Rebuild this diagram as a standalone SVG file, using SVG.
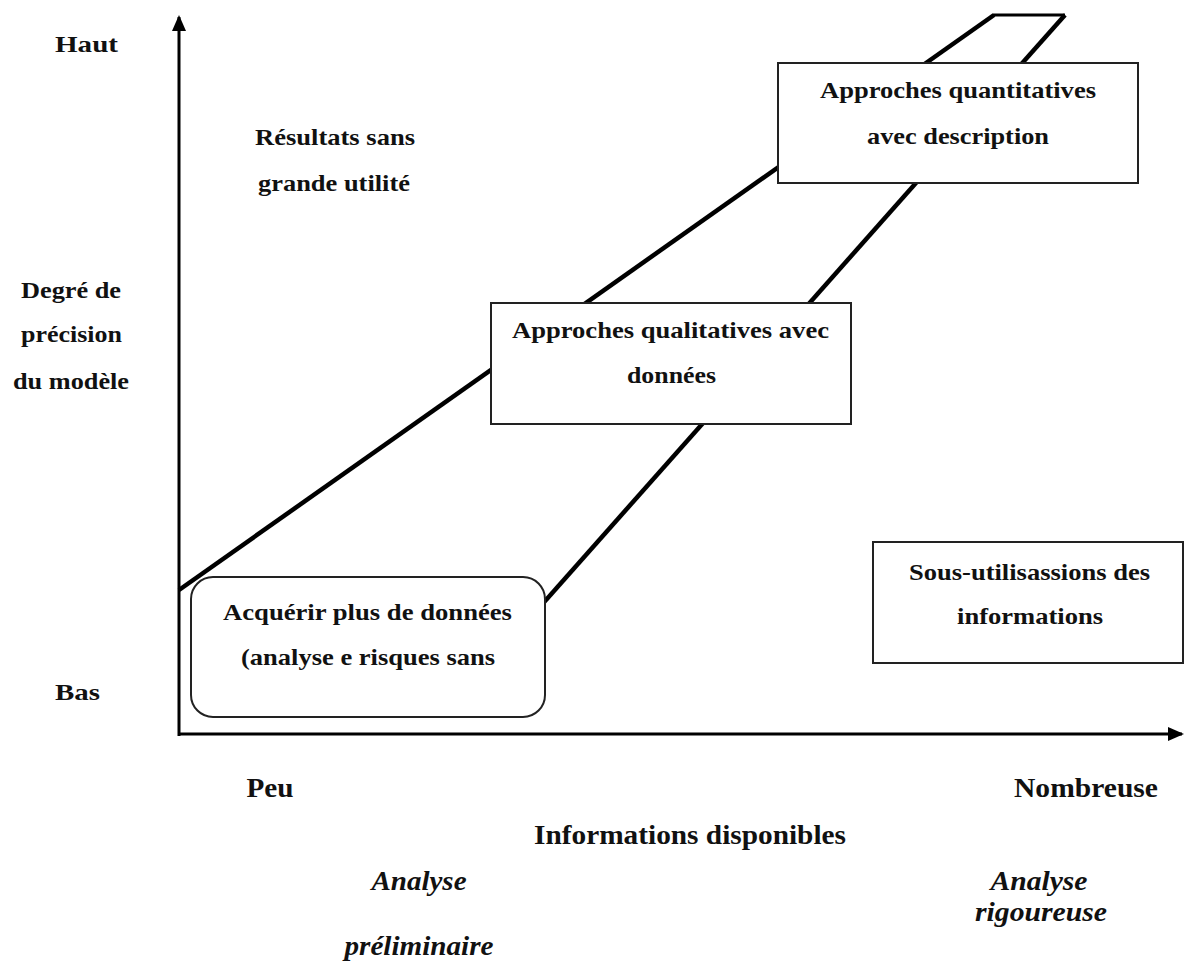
<svg xmlns="http://www.w3.org/2000/svg" width="1186" height="965" viewBox="0 0 1186 965">
  <style>
    .t { font-family: "Liberation Serif", "Times New Roman", serif; font-weight: bold; font-size: 24px; fill: #111; text-anchor: middle; }
    .b { font-family: "Liberation Serif", "Times New Roman", serif; font-weight: bold; font-size: 28px; fill: #111; text-anchor: middle; }
    .i { font-family: "Liberation Serif", "Times New Roman", serif; font-weight: bold; font-style: italic; font-size: 28px; fill: #111; text-anchor: middle; }
    .box { fill: #fff; stroke: #222; stroke-width: 2; }
    .axis { stroke: #000; stroke-width: 3; fill: none; }
    .band { stroke: #000; stroke-width: 4.5; fill: none; stroke-linecap: butt; }
  </style>
  <defs>
    <marker id="arrow" markerWidth="16" markerHeight="14" refX="14" refY="7" orient="auto" markerUnits="userSpaceOnUse">
      <path d="M0,0 L16,7 L0,14 Z" fill="#000"/>
    </marker>
  </defs>

  <g id="connectors">
    <line id="y-axis" class="axis" x1="179" y1="736" x2="179" y2="17" marker-end="url(#arrow)"/>
    <line id="x-axis" class="axis" x1="178" y1="734" x2="1182" y2="734" marker-end="url(#arrow)"/>
    <line id="band-upper" class="band" x1="179" y1="590" x2="994" y2="15"/>
    <line id="band-top" x1="993" y1="15" x2="1065" y2="15" stroke="#000" stroke-width="3"/>
    <line id="band-lower" class="band" x1="1065" y1="15" x2="538" y2="609"/>
  </g>

  <g id="axis-labels">
    <text class="t" x="86.5" y="52" textLength="63" lengthAdjust="spacingAndGlyphs">Haut</text>
    <text class="t" x="71" y="298" textLength="100" lengthAdjust="spacingAndGlyphs">Degré de</text>
    <text class="t" x="71.5" y="342" textLength="101" lengthAdjust="spacingAndGlyphs">précision</text>
    <text class="t" x="71" y="389" textLength="116" lengthAdjust="spacingAndGlyphs">du modèle</text>
    <text class="t" x="77.5" y="700" textLength="45" lengthAdjust="spacingAndGlyphs">Bas</text>
    <text class="b" x="270" y="797" textLength="47" lengthAdjust="spacingAndGlyphs">Peu</text>
    <text class="b" x="1086" y="797" textLength="144" lengthAdjust="spacingAndGlyphs">Nombreuse</text>
    <text class="b" x="690" y="844" textLength="312" lengthAdjust="spacingAndGlyphs">Informations disponibles</text>
    <text class="i" x="419" y="890" textLength="95" lengthAdjust="spacingAndGlyphs">Analyse</text>
    <text class="i" x="419" y="955" textLength="149" lengthAdjust="spacingAndGlyphs">préliminaire</text>
    <text class="i" x="1039" y="890" textLength="97" lengthAdjust="spacingAndGlyphs">Analyse</text>
    <text class="i" x="1041" y="921" textLength="132" lengthAdjust="spacingAndGlyphs">rigoureuse</text>
  </g>

  <g id="node-resultats">
    <text class="t" x="335" y="145" textLength="160" lengthAdjust="spacingAndGlyphs">Résultats sans</text>
    <text class="t" x="334" y="191" textLength="152" lengthAdjust="spacingAndGlyphs">grande utilité</text>
  </g>

  <g id="node-quantitatives">
    <rect class="box" x="778" y="63" width="360" height="120"/>
    <text class="t" x="958" y="98" textLength="276" lengthAdjust="spacingAndGlyphs">Approches quantitatives</text>
    <text class="t" x="958" y="144" textLength="182" lengthAdjust="spacingAndGlyphs">avec description</text>
  </g>

  <g id="node-qualitatives">
    <rect class="box" x="491" y="303" width="360" height="121"/>
    <text class="t" x="670.5" y="338" textLength="317" lengthAdjust="spacingAndGlyphs">Approches qualitatives avec</text>
    <text class="t" x="671.5" y="383" textLength="89" lengthAdjust="spacingAndGlyphs">données</text>
  </g>

  <g id="node-acquerir">
    <rect class="box" x="191" y="577" width="354" height="140" rx="22" ry="22"/>
    <text class="t" x="367.5" y="620" textLength="289" lengthAdjust="spacingAndGlyphs">Acquérir plus de données</text>
    <text class="t" x="368" y="665" textLength="254" lengthAdjust="spacingAndGlyphs">(analyse e risques sans</text>
  </g>

  <g id="node-sous-utilisation">
    <rect class="box" x="873" y="542" width="310" height="121"/>
    <text class="t" x="1029.5" y="580" textLength="241" lengthAdjust="spacingAndGlyphs">Sous-utilisassions des</text>
    <text class="t" x="1030" y="624" textLength="146" lengthAdjust="spacingAndGlyphs">informations</text>
  </g>
</svg>
